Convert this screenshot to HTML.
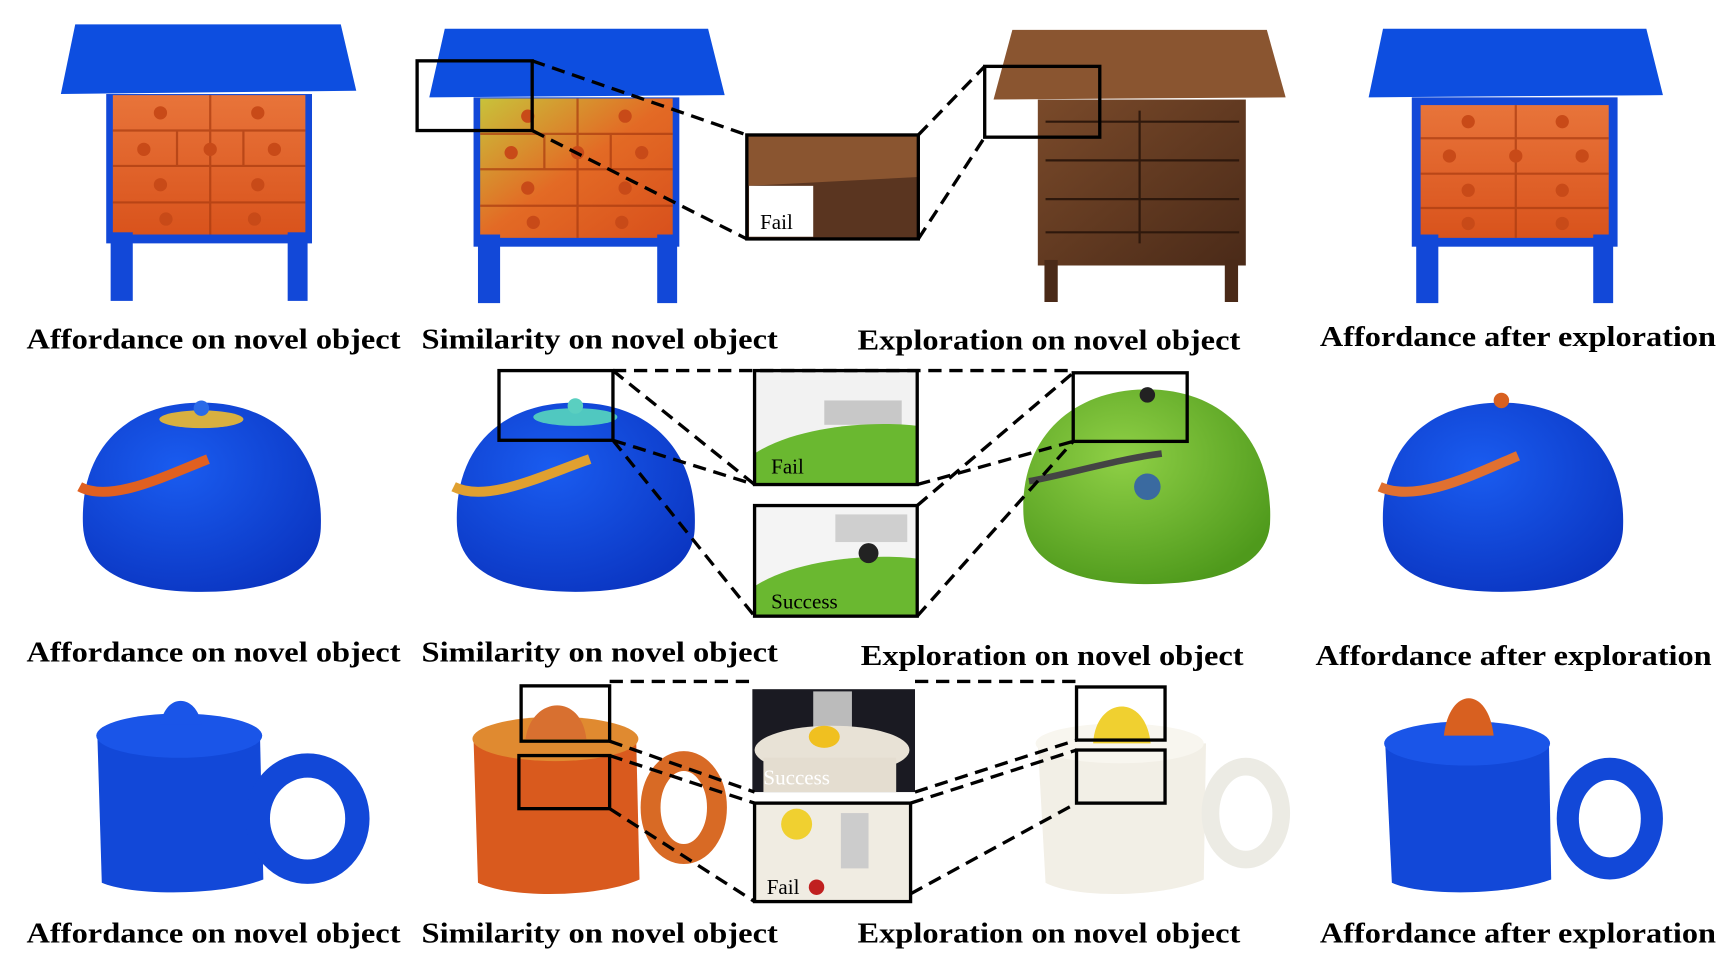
<!DOCTYPE html>
<html><head><meta charset="utf-8"><style>
html,body{margin:0;padding:0;background:#fff;width:1726px;height:958px;overflow:hidden}
svg{display:block}
text{font-family:"Liberation Serif",serif;font-weight:bold}
</style></head><body>
<svg width="1726" height="958" viewBox="0 0 1560 866" preserveAspectRatio="none">
<defs>
<linearGradient id="heat" x1="0" y1="0" x2="0" y2="1"><stop offset="0" stop-color="#e8743a"/><stop offset="1" stop-color="#d9531c"/></linearGradient>
<linearGradient id="heat2" x1="0" y1="0" x2="1" y2="1"><stop offset="0" stop-color="#c8c23a"/><stop offset=".5" stop-color="#e36a25"/><stop offset="1" stop-color="#d8501c"/></linearGradient>
<linearGradient id="wood" x1="0" y1="0" x2="1" y2="1"><stop offset="0" stop-color="#7a4a2a"/><stop offset="1" stop-color="#4a2a18"/></linearGradient>
<radialGradient id="green" cx=".4" cy=".35" r=".7"><stop offset="0" stop-color="#8fd046"/><stop offset="1" stop-color="#4f9a1c"/></radialGradient>
<radialGradient id="blue" cx=".4" cy=".35" r=".75"><stop offset="0" stop-color="#1a5cf0"/><stop offset="1" stop-color="#0a34c0"/></radialGradient>
</defs>
<g stroke="none">
<polygon points="68,22 308,22 322,82 55,85" fill="#0d4ee0"/>
<rect x="96" y="85" width="186" height="135" fill="#1248d8"/>
<rect x="102" y="86" width="174" height="126" fill="url(#heat)"/>
<rect x="100" y="210" width="20" height="62" fill="#1248d8"/>
<rect x="260" y="210" width="18" height="62" fill="#1248d8"/>
<polygon points="402,26 640,26 655,86 388,88" fill="#0d4ee0"/>
<rect x="428" y="88" width="186" height="135" fill="#1248d8"/>
<rect x="434" y="89" width="174" height="126" fill="url(#heat2)"/>
<rect x="432" y="212" width="20" height="62" fill="#1248d8"/>
<rect x="594" y="212" width="18" height="62" fill="#1248d8"/>
<polygon points="915,27 1145,27 1162,88 898,90" fill="#8a5530"/>
<rect x="938" y="90" width="188" height="150" fill="url(#wood)"/>
<rect x="944" y="235" width="12" height="38" fill="#4a2a18"/>
<rect x="1107" y="235" width="12" height="38" fill="#4a2a18"/>
<polygon points="1250,26 1488,26 1503,86 1237,88" fill="#0d4ee0"/>
<rect x="1276" y="88" width="186" height="135" fill="#1248d8"/>
<rect x="1284" y="95" width="170" height="120" fill="url(#heat)"/>
<rect x="1280" y="212" width="20" height="62" fill="#1248d8"/>
<rect x="1440" y="212" width="18" height="62" fill="#1248d8"/>
</g>
<g stroke="#a83a10" stroke-width="2" fill="none" opacity=".7">
<path d="M102,118 H276 M102,150 H276 M102,183 H276 M190,86 V212 M160,118 V150 M220,118 V150"/>
<path d="M434,121 H608 M434,153 H608 M434,186 H608 M522,89 V215 M492,121 V153 M552,121 V153"/>
<path d="M1284,125 H1454 M1284,157 H1454 M1284,188 H1454 M1370,95 V215"/>
</g>
<g stroke="#2e180c" stroke-width="2" fill="none"><path d="M945,110 H1120 M945,145 H1120 M945,180 H1120 M945,210 H1120 M1030,100 V220"/></g>
<g fill="#c84a18">
<circle cx="145" cy="102" r="6"/><circle cx="233" cy="102" r="6"/><circle cx="130" cy="135" r="6"/><circle cx="190" cy="135" r="6"/><circle cx="248" cy="135" r="6"/><circle cx="145" cy="167" r="6"/><circle cx="233" cy="167" r="6"/><circle cx="150" cy="198" r="6"/><circle cx="230" cy="198" r="6"/>
<circle cx="477" cy="105" r="6"/><circle cx="565" cy="105" r="6"/><circle cx="462" cy="138" r="6"/><circle cx="522" cy="138" r="6"/><circle cx="580" cy="138" r="6"/><circle cx="477" cy="170" r="6"/><circle cx="565" cy="170" r="6"/><circle cx="482" cy="201" r="6"/><circle cx="562" cy="201" r="6"/>
<circle cx="1327" cy="110" r="6"/><circle cx="1412" cy="110" r="6"/><circle cx="1310" cy="141" r="6"/><circle cx="1370" cy="141" r="6"/><circle cx="1430" cy="141" r="6"/><circle cx="1327" cy="172" r="6"/><circle cx="1412" cy="172" r="6"/><circle cx="1327" cy="202" r="6"/><circle cx="1412" cy="202" r="6"/>
</g>
<g stroke="none">
<path d="M75,475 C72,405 115,364 182,364 C250,364 292,408 290,475 C290,518 245,535 182,535 C120,535 77,518 75,475Z" fill="url(#blue)"/>
<ellipse cx="182" cy="379" rx="38" ry="8" fill="#d8b040"/>
<circle cx="182" cy="369" r="7" fill="#2a6ae8"/>
<path d="M72,440 C100,455 150,430 188,415" stroke="#e06020" stroke-width="9" fill="none"/>
<path d="M413,475 C410,405 453,364 520,364 C588,364 630,408 628,475 C628,518 583,535 520,535 C458,535 415,518 413,475Z" fill="url(#blue)"/>
<ellipse cx="520" cy="377" rx="38" ry="8" fill="#50c8c0"/>
<circle cx="520" cy="367" r="7" fill="#5acfc0"/>
<path d="M410,440 C440,455 490,430 533,415" stroke="#e0a030" stroke-width="9" fill="none"/>
<path d="M925,465 C922,395 970,352 1037,352 C1105,352 1150,398 1148,470 C1148,512 1100,528 1037,528 C975,528 927,512 925,465Z" fill="url(#green)"/>
<circle cx="1037" cy="357" r="7" fill="#222"/>
<path d="M930,435 C960,430 1010,415 1050,410" stroke="#444" stroke-width="6" fill="none"/>
<ellipse cx="1037" cy="440" rx="12" ry="12" fill="#3a6aa0"/>
<path d="M1250,475 C1247,405 1290,364 1357,364 C1425,364 1469,408 1467,475 C1467,518 1420,535 1357,535 C1295,535 1252,518 1250,475Z" fill="url(#blue)"/>
<circle cx="1357" cy="362" r="7" fill="#d86020"/>
<path d="M1247,440 C1280,455 1330,430 1372,412" stroke="#e07030" stroke-width="9" fill="none"/>
<path d="M88,665 L235,665 L238,795 C200,810 120,810 92,798Z" fill="#1248d8"/>
<ellipse cx="162" cy="665" rx="75" ry="20" fill="#1a55e8"/>
<path d="M145,655 C150,625 178,628 182,655Z" fill="#1a55e8"/>
<ellipse cx="278" cy="740" rx="45" ry="48" fill="none" stroke="#1248d8" stroke-width="22"/>
<path d="M428,668 L575,668 L578,795 C540,812 460,812 432,798Z" fill="#d95a1e"/>
<ellipse cx="502" cy="668" rx="75" ry="20" fill="#e08a30"/>
<path d="M475,668 C480,630 525,625 530,668Z" fill="#d87030"/>
<ellipse cx="618" cy="730" rx="30" ry="42" fill="none" stroke="#d86a25" stroke-width="18"/>
<path d="M938,672 L1090,672 L1088,795 C1050,812 970,812 945,798Z" fill="#f2efe6"/>
<ellipse cx="1012" cy="672" rx="76" ry="18" fill="#f8f6ef"/>
<path d="M988,672 C990,630 1035,625 1040,672Z" fill="#f0d030"/>
<ellipse cx="1126" cy="735" rx="32" ry="42" fill="none" stroke="#ecebe4" stroke-width="16"/>
<path d="M1252,672 L1400,672 L1402,795 C1360,810 1285,810 1258,798Z" fill="#1248d8"/>
<ellipse cx="1326" cy="672" rx="75" ry="20" fill="#1a55e8"/>
<path d="M1305,665 C1310,620 1345,620 1350,665Z" fill="#d86020"/>
<ellipse cx="1455" cy="740" rx="38" ry="45" fill="none" stroke="#1248d8" stroke-width="20"/>
<rect x="675" y="122" width="155" height="94" fill="#5a3520"/>
<polygon points="675,122 830,122 830,160 675,168" fill="#8a5530"/>
<rect x="677" y="168" width="58" height="46" fill="#fff"/>
<rect x="682" y="335" width="147" height="103" fill="#f2f2f2"/>
<rect x="745" y="362" width="70" height="22" fill="#c8c8c8"/>
<path d="M682,410 C720,385 790,380 829,385 L829,438 L682,438Z" fill="#6ab830"/>
<rect x="682" y="457" width="147" height="100" fill="#f4f4f4"/>
<rect x="755" y="465" width="65" height="25" fill="#cfcfcf"/>
<path d="M682,530 C720,505 790,500 829,505 L829,557 L682,557Z" fill="#6ab830"/>
<circle cx="785" cy="500" r="9" fill="#222"/>
<rect x="680" y="623" width="147" height="93" fill="#1a1a22"/>
<rect x="735" y="625" width="35" height="40" fill="#bbb"/>
<ellipse cx="752" cy="678" rx="70" ry="22" fill="#e8e2d6"/>
<ellipse cx="745" cy="666" rx="14" ry="10" fill="#f0c020"/>
<rect x="690" y="685" width="120" height="31" fill="#e4ddd0"/>
<rect x="682" y="726" width="141" height="89" fill="#f0ece2"/>
<ellipse cx="720" cy="745" rx="14" ry="14" fill="#f0d030"/>
<rect x="760" y="735" width="25" height="50" fill="#ccc"/>
<circle cx="738" cy="802" r="7" fill="#c02020"/>
</g>
<g fill="none" stroke="#000" stroke-width="3">
<rect x="377" y="55" width="104" height="63"/>
<rect x="890" y="60" width="104" height="64"/>
<rect x="675" y="122" width="155" height="94"/>
<rect x="451" y="335" width="103" height="63"/>
<rect x="970" y="337" width="103" height="62"/>
<rect x="682" y="335" width="147" height="103"/>
<rect x="682" y="457" width="147" height="100"/>
<rect x="471" y="620" width="80" height="50"/>
<rect x="469" y="683" width="82" height="48"/>
<rect x="973" y="621" width="80" height="48"/>
<rect x="973" y="678" width="80" height="48"/>
<rect x="682" y="726" width="141" height="89"/>
</g>
<g fill="none" stroke="#000" stroke-width="3" stroke-dasharray="12,7">
<line x1="481" y1="55" x2="675" y2="122"/>
<line x1="481" y1="118" x2="675" y2="216"/>
<line x1="830" y1="122" x2="890" y2="60"/>
<line x1="830" y1="216" x2="890" y2="124"/>
<line x1="554" y1="335" x2="970" y2="335"/>
<line x1="554" y1="335" x2="682" y2="438"/>
<line x1="554" y1="398" x2="682" y2="557"/>
<line x1="554" y1="398" x2="682" y2="438"/>
<line x1="829" y1="438" x2="970" y2="399"/>
<line x1="829" y1="457" x2="970" y2="337"/>
<line x1="829" y1="557" x2="970" y2="399"/>
<line x1="551" y1="616" x2="680" y2="616"/>
<line x1="827" y1="616" x2="973" y2="616"/>
<line x1="551" y1="670" x2="682" y2="716"/>
<line x1="551" y1="731" x2="682" y2="815"/>
<line x1="551" y1="683" x2="682" y2="726"/>
<line x1="827" y1="716" x2="973" y2="669"/>
<line x1="823" y1="726" x2="973" y2="678"/>
<line x1="823" y1="808" x2="973" y2="726"/>
</g>
<g font-size="19">
<text x="687" y="207" style="font-weight:normal">Fail</text>
<text x="697" y="428" style="font-weight:normal">Fail</text>
<text x="697" y="550" style="font-weight:normal">Success</text>
<text x="690" y="709" fill="#fff" style="font-weight:normal">Success</text>
<text x="693" y="808" style="font-weight:normal">Fail</text>
</g>
<g font-size="26">
<text x="24" y="315" textLength="338" lengthAdjust="spacingAndGlyphs">Affordance on novel object</text>
<text x="381" y="315" textLength="322" lengthAdjust="spacingAndGlyphs">Similarity on novel object</text>
<text x="775" y="316" textLength="346" lengthAdjust="spacingAndGlyphs">Exploration on novel object</text>
<text x="1193" y="313" textLength="358" lengthAdjust="spacingAndGlyphs">Affordance after exploration</text>
<text x="24" y="598" textLength="338" lengthAdjust="spacingAndGlyphs">Affordance on novel object</text>
<text x="381" y="598" textLength="322" lengthAdjust="spacingAndGlyphs">Similarity on novel object</text>
<text x="778" y="601" textLength="346" lengthAdjust="spacingAndGlyphs">Exploration on novel object</text>
<text x="1189" y="601" textLength="358" lengthAdjust="spacingAndGlyphs">Affordance after exploration</text>
<text x="24" y="852" textLength="338" lengthAdjust="spacingAndGlyphs">Affordance on novel object</text>
<text x="381" y="852" textLength="322" lengthAdjust="spacingAndGlyphs">Similarity on novel object</text>
<text x="775" y="852" textLength="346" lengthAdjust="spacingAndGlyphs">Exploration on novel object</text>
<text x="1193" y="852" textLength="358" lengthAdjust="spacingAndGlyphs">Affordance after exploration</text>
</g>
</svg>
</body></html>
